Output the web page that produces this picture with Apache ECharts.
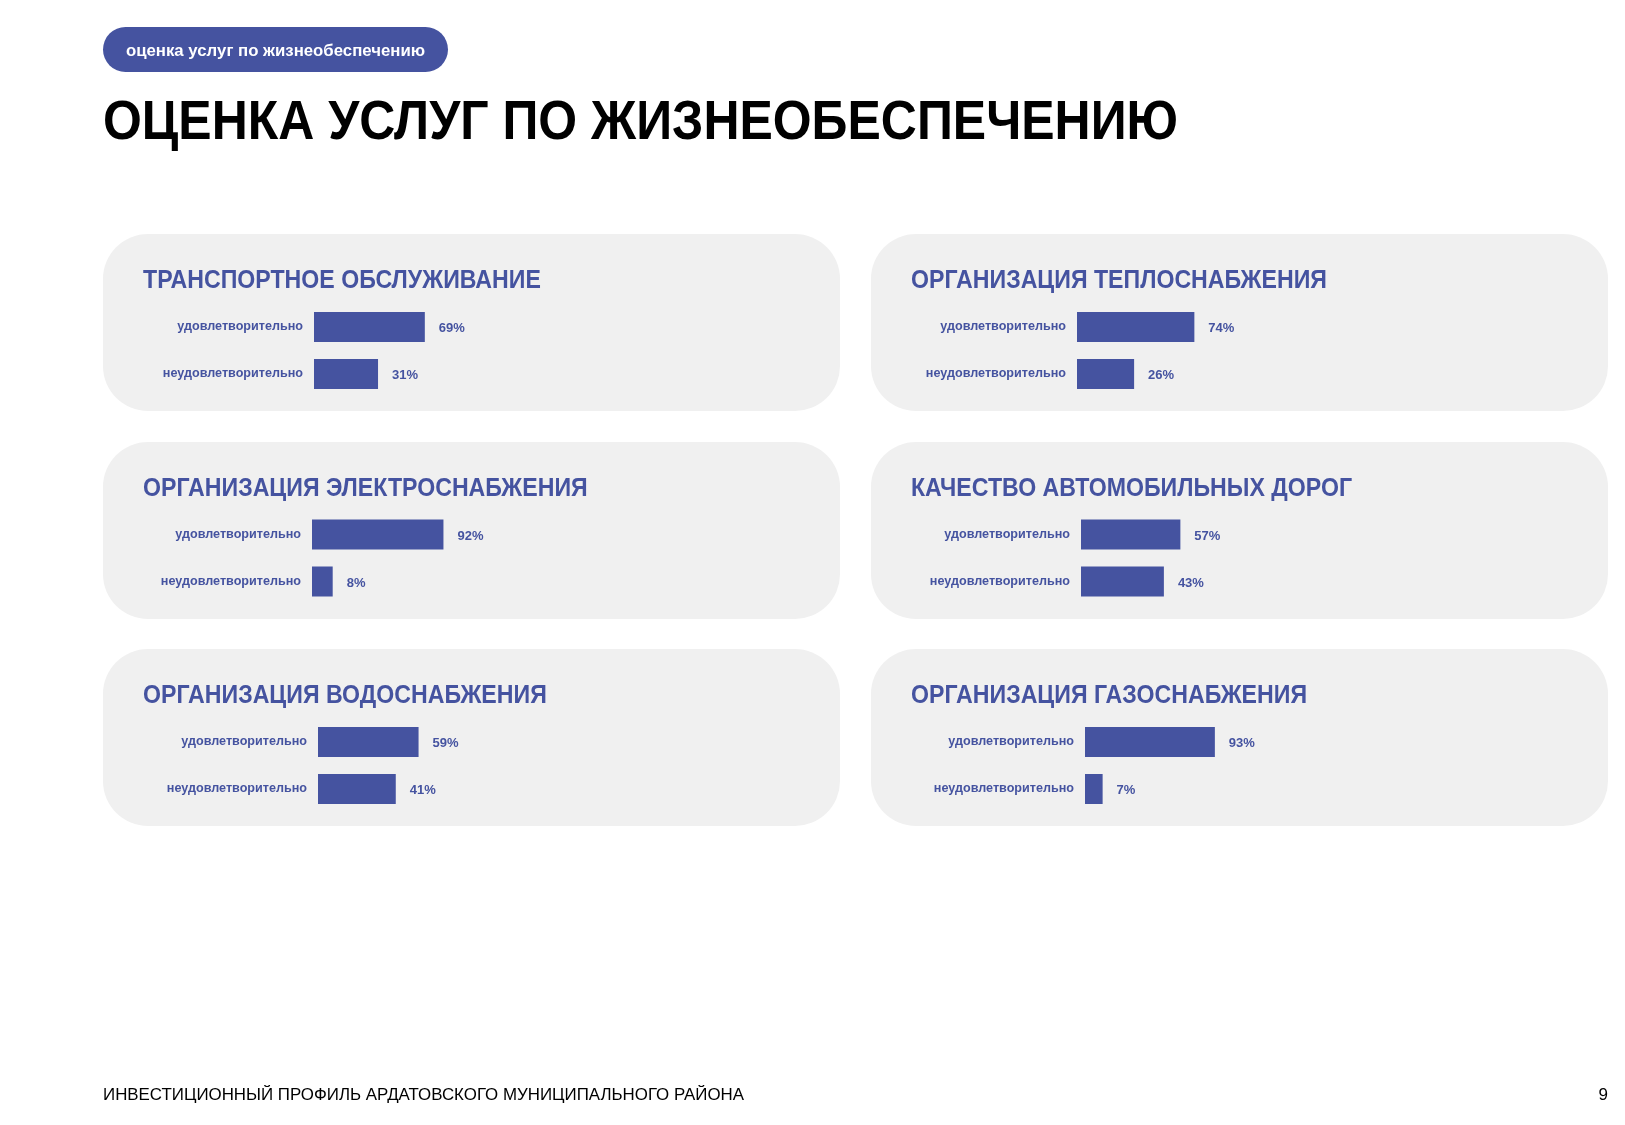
<!DOCTYPE html>
<html>
<head>
<meta charset="utf-8">
<script src="https://cdn.jsdelivr.net/npm/echarts@6/dist/echarts.min.js"></script>
<style>
html,body{margin:0;padding:0;background:#fff;}
#c{width:1625px;height:1125px;}
</style>
</head>
<body>
<div id="c"></div>
<script>
// ---- data ----
const categories = ['удовлетворительно', 'неудовлетворительно'];
const cardTitles = [
  'ТРАНСПОРТНОЕ ОБСЛУЖИВАНИЕ',
  'ОРГАНИЗАЦИЯ ТЕПЛОСНАБЖЕНИЯ',
  'ОРГАНИЗАЦИЯ ЭЛЕКТРОСНАБЖЕНИЯ',
  'КАЧЕСТВО АВТОМОБИЛЬНЫХ ДОРОГ',
  'ОРГАНИЗАЦИЯ ВОДОСНАБЖЕНИЯ',
  'ОРГАНИЗАЦИЯ ГАЗОСНАБЖЕНИЯ'
];
const satisfied = [69, 74, 92, 57, 59, 93];
const unsatisfied = [31, 26, 8, 43, 41, 7];
const pillText = 'оценка услуг по жизнеобеспечению';
const pageTitle = 'ОЦЕНКА УСЛУГ ПО ЖИЗНЕОБЕСПЕЧЕНИЮ';
const footerText = 'ИНВЕСТИЦИОННЫЙ ПРОФИЛЬ АРДАТОВСКОГО МУНИЦИПАЛЬНОГО РАЙОНА';
const pageNumber = '9';

// ---- layout ----
const BLUE = '#4553a0';
const FONT = '"Liberation Sans", Arial, sans-serif';
const colX = [103, 871];
const rowY = [234, 442, 649];
const cardW = 737, cardH = 177;
const barStart = [314, 1077, 312, 1081, 318, 1085];
const plotW = [149, 150, 142, 150, 152.5, 139];
const axisMin = [-21, -19.5, -7.7, -27.4, -20.4, -6.5];
const gridTop = [303.5, 303.5, 511, 511, 718.5, 718.5];

const graphic = [];
// pill
graphic.push({type:'rect', shape:{x:103, y:27, width:345, height:45, r:22.5}, style:{fill:BLUE}, z:1});
graphic.push({type:'text', x:275.5, y:51, style:{text:pillText, fill:'#fff', font:'bold 16.8px ' + FONT, align:'center', verticalAlign:'middle'}, z:2});
// page title
graphic.push({type:'text', x:103, y:124, scaleX:0.892, style:{text:pageTitle, fill:'#000', font:'bold 56px ' + FONT, align:'left', verticalAlign:'middle'}, z:2});
// cards
for (let i = 0; i < 6; i++) {
  const cx = colX[i % 2], cy = rowY[Math.floor(i / 2)];
  graphic.push({type:'rect', shape:{x:cx, y:cy, width:cardW, height:cardH, r:45}, style:{fill:'#f0f0f0'}, z:0});
  graphic.push({type:'text', x:cx + 40, y:cy + 46.5, scaleX:0.89, style:{text:cardTitles[i], fill:BLUE, font:'bold 26px ' + FONT, align:'left', verticalAlign:'middle'}, z:2});
}
// footer
graphic.push({type:'text', x:103, y:1095, scaleX:0.993, style:{text:footerText, fill:'#000', font:'17px ' + FONT, align:'left', verticalAlign:'middle'}, z:2});
graphic.push({type:'text', x:1608, y:1095, style:{text:pageNumber, fill:'#000', font:'17px ' + FONT, align:'right', verticalAlign:'middle'}, z:2});

const grids = [], xAxes = [], yAxes = [], series = [];
for (let i = 0; i < 6; i++) {
  grids.push({left: barStart[i], top: gridTop[i], width: plotW[i], height: 94, containLabel: false});
  xAxes.push({type:'value', gridIndex:i, min:axisMin[i], max:100, startValue:axisMin[i], show:false});
  yAxes.push({type:'category', gridIndex:i, inverse:true, data:categories,
    axisLine:{show:false}, axisTick:{show:false}, splitLine:{show:false},
    axisLabel:{margin:11, color:BLUE, fontSize:12.6, fontWeight:'bold', fontFamily:FONT, padding:[3,0,0,0]}});
  series.push({type:'bar', xAxisIndex:i, yAxisIndex:i, barWidth:30,
    data:[satisfied[i], unsatisfied[i]],
    itemStyle:{color:BLUE},
    label:{show:true, position:'right', distance:14, offset:[0,1.5], formatter:'{c}%', color:BLUE, fontSize:13, fontWeight:'bold', fontFamily:FONT},
    silent:true, animation:false});
}

const chart = echarts.init(document.getElementById('c'), null, {renderer:'canvas'});
chart.setOption({
  animation:false,
  backgroundColor:'#fff',
  graphic: {elements: graphic},
  grid: grids, xAxis: xAxes, yAxis: yAxes, series: series
});
</script>
</body>
</html>
